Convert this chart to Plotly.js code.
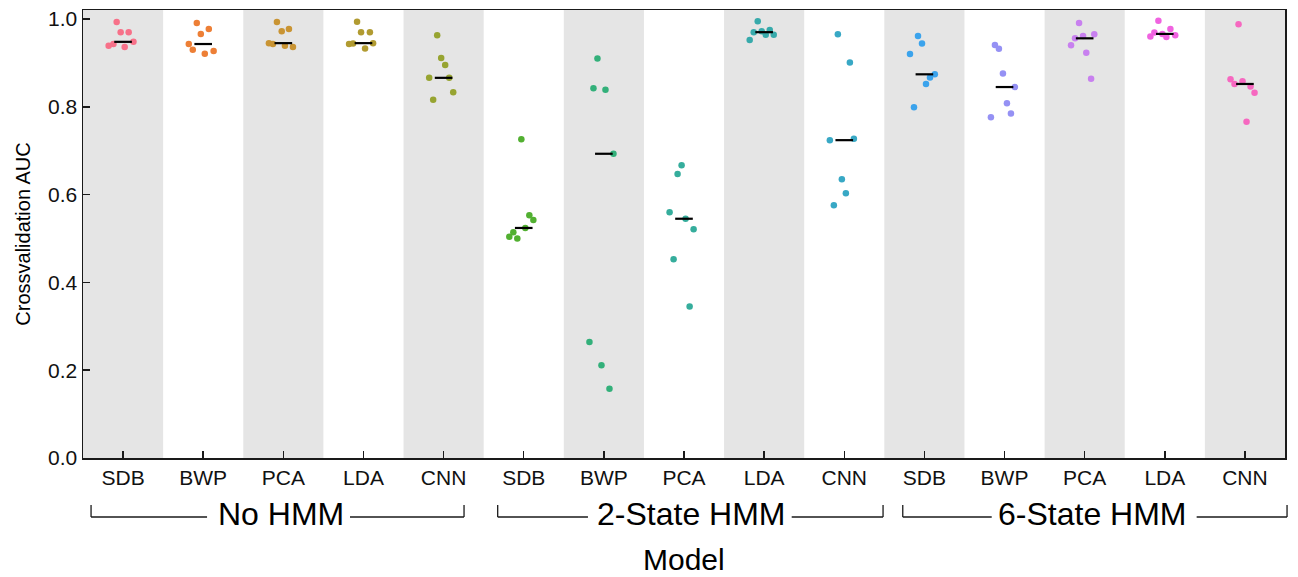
<!DOCTYPE html>
<html>
<head>
<meta charset="utf-8">
<script src="https://cdn.plot.ly/plotly-3.0.1.min.js"></script>
<style>html,body{margin:0;padding:0;background:#fff;}#chart{width:1298px;height:577px;}</style>
</head>
<body>
<div id="chart"></div>
<script>
// ---- data ----
const models = ['SDB', 'BWP', 'PCA', 'LDA', 'CNN'];
const groups = ['No HMM', '2-State HMM', '6-State HMM'];

// Crossvalidation AUC per fold (7 folds), one array per model
const noHmmAUC = [
  [0.993, 0.970, 0.970, 0.939, 0.943, 0.948, 0.936],
  [0.991, 0.977, 0.966, 0.943, 0.930, 0.921, 0.927],
  [0.993, 0.972, 0.977, 0.945, 0.943, 0.939, 0.936],
  [0.994, 0.970, 0.970, 0.943, 0.944, 0.945, 0.933],
  [0.963, 0.911, 0.895, 0.866, 0.866, 0.833, 0.816]
];
const twoStateAUC = [
  [0.726, 0.553, 0.542, 0.524, 0.514, 0.504, 0.500],
  [0.910, 0.842, 0.839, 0.693, 0.264, 0.211, 0.158],
  [0.667, 0.647, 0.560, 0.545, 0.521, 0.453, 0.345],
  [0.995, 0.970, 0.972, 0.975, 0.964, 0.964, 0.952],
  [0.965, 0.901, 0.724, 0.727, 0.635, 0.603, 0.576]
];
const sixStateAUC = [
  [0.961, 0.944, 0.920, 0.874, 0.867, 0.852, 0.799],
  [0.941, 0.932, 0.876, 0.845, 0.808, 0.785, 0.776],
  [0.991, 0.965, 0.961, 0.956, 0.940, 0.923, 0.864],
  [0.996, 0.977, 0.969, 0.966, 0.960, 0.959, 0.963],
  [0.988, 0.863, 0.852, 0.858, 0.846, 0.832, 0.766]
];

// horizontal strip jitter of each point (category units)
const noHmmJitter = [
  [-0.08, -0.03, 0.07, -0.18, -0.12, 0.13, 0.02],
  [-0.08, 0.07, -0.03, -0.18, -0.13, 0.02, 0.13],
  [-0.08, -0.02, 0.07, -0.18, -0.13, 0.02, 0.12],
  [-0.08, -0.03, 0.08, -0.18, -0.13, 0.12, 0.02],
  [-0.08, -0.03, 0.02, -0.18, 0.07, 0.12, -0.13]
];
const twoStateJitter = [
  [-0.03, 0.07, 0.12, 0.02, -0.13, -0.18, -0.08],
  [-0.08, -0.13, 0.02, 0.12, -0.18, -0.03, 0.07],
  [-0.03, -0.08, -0.18, 0.02, 0.12, -0.13, 0.07],
  [-0.08, -0.13, -0.03, 0.07, 0.02, 0.12, -0.18],
  [-0.08, 0.07, -0.18, 0.12, -0.03, 0.02, -0.13]
];
const sixStateJitter = [
  [-0.08, -0.03, -0.18, 0.13, 0.07, 0.02, -0.13],
  [-0.12, -0.07, -0.02, 0.13, 0.03, 0.08, -0.17],
  [-0.07, 0.12, -0.02, -0.12, -0.17, 0.02, 0.08],
  [-0.08, 0.07, -0.13, -0.03, -0.18, 0.02, 0.13],
  [-0.08, -0.18, -0.13, -0.03, 0.07, 0.12, 0.02]
];

const yTicks = [0, 0.2, 0.4, 0.6, 0.8, 1.0];

// ---- styles ----
const palette = ['#f77189', '#ed7f36', '#c99433', '#b19b31', '#97a431',
                 '#52b031', '#33b07a', '#35ad9c', '#37aaab', '#38a8c5',
                 '#3ba3ec', '#9591f4', '#c880ef', '#f063e0', '#f668c0'];
const FONT = '"Liberation Sans", Arial, Helvetica, sans-serif';
const INK = '#1a1a1a';

const allAUC = [noHmmAUC, twoStateAUC, sixStateAUC];
const allJit = [noHmmJitter, twoStateJitter, sixStateJitter];

function median(a) {
  const s = a.slice().sort((p, q) => p - q);
  const m = Math.floor(s.length / 2);
  return s.length % 2 ? s[m] : (s[m - 1] + s[m]) / 2;
}

const traces = [];
const medX = [], medY = [];
const tickvals = [], ticktext = [];
const shapes = [];
let col = 0;
allAUC.forEach((grp, g) => {
  grp.forEach((vals, m) => {
    const c = col;
    tickvals.push(c);
    ticktext.push(models[m]);
    if (c % 2 === 0) {
      shapes.push({type: 'rect', xref: 'x', yref: 'paper', x0: c - 0.5, x1: c + 0.5, y0: 0, y1: 1,
                   fillcolor: '#e5e5e5', line: {width: 0}, layer: 'below'});
    }
    traces.push({
      type: 'scatter', mode: 'markers',
      x: vals.map((v, k) => c + allJit[g][m][k]),
      y: vals,
      marker: {color: palette[c], size: 6.5, line: {width: 0}},
      name: groups[g] + ' ' + models[m],
      hoverinfo: 'y', showlegend: false
    });
    const md = median(vals);
    medX.push(c - 0.11, c + 0.11, null);
    medY.push(md, md, null);
    col++;
  });
});
traces.push({type: 'scatter', mode: 'lines', x: medX, y: medY,
             line: {color: '#000', width: 2.2}, hoverinfo: 'skip', showlegend: false});

// group brackets (paper coordinates)
const brackets = [
  {x0: 0.0067, x1: 0.317, t0: 0.1032, t1: 0.2221, xc: 0.165},
  {x0: 0.345, x1: 0.6656, t0: 0.4201, t1: 0.5896, xc: 0.5058},
  {x0: 0.682, x1: 1.0017, t0: 0.7560, t1: 0.9265, xc: 0.8398}
];
const yLine = -0.1317, yTip = -0.1049;
const bl = {color: INK, width: 1.3};
brackets.forEach(b => {
  shapes.push({type: 'line', xref: 'paper', yref: 'paper', x0: b.x0, x1: b.x0, y0: yTip, y1: yLine, line: bl});
  shapes.push({type: 'line', xref: 'paper', yref: 'paper', x0: b.x0, x1: b.t0, y0: yLine, y1: yLine, line: bl});
  shapes.push({type: 'line', xref: 'paper', yref: 'paper', x0: b.t1, x1: b.x1, y0: yLine, y1: yLine, line: bl});
  shapes.push({type: 'line', xref: 'paper', yref: 'paper', x0: b.x1, x1: b.x1, y0: yTip, y1: yLine, line: bl});
});

const annotations = groups.map((gname, i) => ({
  text: gname, xref: 'paper', yref: 'paper', x: brackets[i].xc, y: -0.125,
  xanchor: 'center', yanchor: 'middle', showarrow: false,
  font: {family: FONT, size: 32, color: '#000'}
}));
annotations.push({text: 'Model', xref: 'paper', yref: 'paper', x: 0.5, y: -0.226,
  xanchor: 'center', yanchor: 'middle', showarrow: false, borderpad: 0,
  font: {family: FONT, size: 30, color: '#000'}});

const axisCommon = {
  showgrid: false, zeroline: false, showline: true, mirror: true,
  linecolor: INK, linewidth: 1.5, ticks: 'inside', ticklen: 7, tickwidth: 1.5,
  tickcolor: INK, tickfont: {family: FONT, size: 21, color: '#111'}
};

const layout = {
  width: 1298, height: 577,
  margin: {l: 83, r: 13, t: 10, b: 119},
  paper_bgcolor: '#fff', plot_bgcolor: '#fff',
  font: {family: FONT},
  showlegend: false,
  xaxis: Object.assign({}, axisCommon, {
    range: [-0.5, 14.5], tickmode: 'array', tickvals: tickvals, ticktext: ticktext
  }),
  yaxis: Object.assign({}, axisCommon, {
    range: [0, 1.0205], tickmode: 'array', tickvals: yTicks,
    ticktext: yTicks.map(v => v.toFixed(1)),
    title: {text: 'Crossvalidation AUC', font: {family: FONT, size: 20, color: '#000'}, standoff: 12}
  }),
  shapes: shapes,
  annotations: annotations
};

Plotly.newPlot('chart', traces, layout, {displayModeBar: false, staticPlot: true});
</script>
</body>
</html>
